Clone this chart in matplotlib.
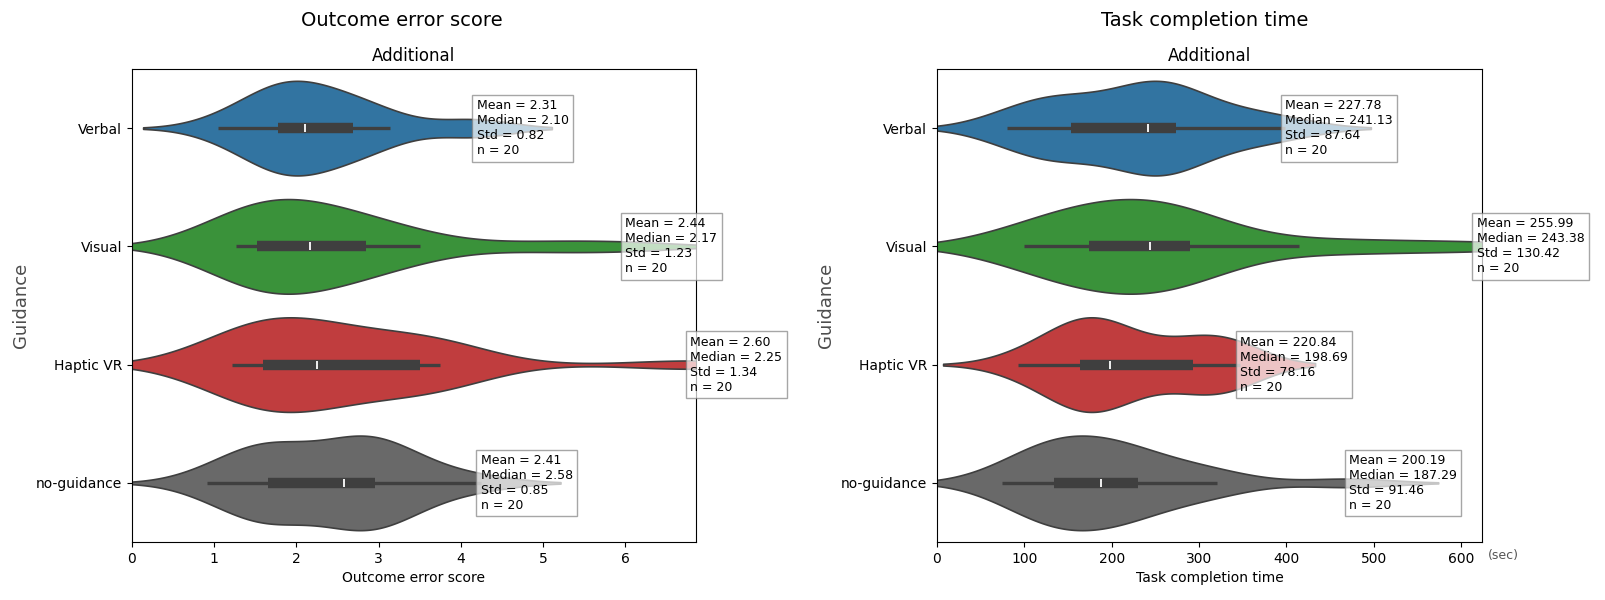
import numpy as np
import matplotlib.pyplot as plt
from matplotlib import mlab, cbook

groups = ['Verbal', 'Visual', 'Haptic VR', 'no-guidance']
colors = ['#3274a1', '#3a923a', '#c03d3e', '#696969']

# outcome error score, 20 participants per guidance type
err_verbal = [1.05, 1.35, 1.5, 1.65, 1.75, 1.78, 1.85, 1.95, 2.0, 2.08, 2.12, 2.25, 2.45, 2.55, 2.65, 2.8, 2.95, 3.14, 4.15, 4.19]
err_visual = [1.26, 1.3, 1.4, 1.45, 1.5, 1.52, 1.6, 1.78, 1.95, 2.12, 2.22, 2.3, 2.4, 2.5, 2.8, 3.0, 3.25, 3.5, 4.95, 6.0]
err_haptic = [1.21, 1.3, 1.45, 1.5, 1.58, 1.6, 1.75, 1.9, 2.0, 2.2, 2.3, 2.5, 2.7, 2.95, 3.45, 3.65, 3.7, 3.72, 3.75, 6.79]
err_none = [0.91, 1.2, 1.4, 1.55, 1.65, 1.66, 1.8, 1.95, 2.2, 2.5, 2.66, 2.72, 2.78, 2.85, 2.92, 3.08, 3.2, 3.4, 3.6, 4.24]

# task completion time (sec)
time_verbal = [80, 100, 114, 135, 150, 155, 160, 215, 232, 238, 244.26, 250, 255, 262, 270, 284, 300, 340, 370, 399]
time_visual = [100, 110, 128, 145, 168, 176, 188, 200, 215, 236, 250.76, 256, 260, 268, 287, 299, 300, 414.7, 500, 618]
time_haptic = [93, 120, 140, 155, 160, 165, 175, 180, 185, 192, 205.38, 210, 236, 270, 290, 305, 318, 330, 340, 347]
time_none = [75, 100, 115, 125, 130, 135, 145, 155, 165, 180, 194.58, 200, 210, 221, 225, 245, 280, 310, 321, 471.8]

# summary values as printed in the boxes: mean, median, std
err_summary = [(2.31, 2.10, 0.82), (2.44, 2.17, 1.23), (2.60, 2.25, 1.34), (2.41, 2.58, 0.85)]
time_summary = [(227.78, 241.13, 87.64), (255.99, 243.38, 130.42), (220.84, 198.69, 78.16), (200.19, 187.29, 91.46)]
n_obs = 20

LINE = '#3f3f3f'


def kde_stats(vals, cut=2, gridsize=200):
    vals = np.asarray(vals, float)
    kde = mlab.GaussianKDE(vals, 'scott')
    bw = kde.factor * vals.std(ddof=1)
    grid = np.linspace(vals.min() - cut * bw, vals.max() + cut * bw, gridsize)
    return dict(coords=grid, vals=kde.evaluate(grid), mean=vals.mean(),
                median=np.median(vals), min=vals.min(), max=vals.max())


def draw_panel(ax, data, summary, xlabel):
    stats = [kde_stats(d) for d in data]
    parts = ax.violin(stats, positions=range(len(data)), orientation='horizontal',
                      widths=0.8, showmeans=False, showextrema=False, showmedians=False)
    for body, c in zip(parts['bodies'], colors):
        body.set_facecolor(c)
        body.set_edgecolor(LINE)
        body.set_alpha(1)
        body.set_linewidth(1.2)

    for i, d in enumerate(data):
        bs = cbook.boxplot_stats(d)[0]
        ax.plot([bs['whislo'], bs['whishi']], [i, i], color=LINE, lw=2.4, solid_capstyle='butt')
        ax.plot([bs['q1'], bs['q3']], [i, i], color=LINE, lw=7.5, solid_capstyle='butt')
        ax.plot(bs['med'], i, marker='|', color='white', ms=6, mew=1.3)

        mean, med, sd = summary[i]
        txt = f'Mean = {mean:.2f}\nMedian = {med:.2f}\nStd = {sd:.2f}\nn = {n_obs}'
        ax.text(max(d), i, txt, fontsize=9, ha='left', va='center', zorder=5,
                bbox=dict(boxstyle='square,pad=0.35', facecolor='white', edgecolor='gray', alpha=0.7))

    top = max(max(d) for d in data)
    ax.set_xlim(0, top * 1.01)
    ax.set_ylim(len(data) - 0.5, -0.5)
    ax.set_yticks(range(len(data)))
    ax.set_yticklabels(groups, fontsize=10)
    ax.tick_params(axis='x', labelsize=10)
    ax.set_xlabel(xlabel, fontsize=10)
    ax.set_ylabel('Guidance', fontsize=13, color='#4d4d4d')
    ax.set_title('Additional', fontsize=12)


fig = plt.figure(figsize=(16.06, 6), dpi=100)
W, H = 1606, 600
ax1 = fig.add_axes([132 / W, 1 - 542 / H, (696 - 132) / W, (542 - 69) / H])
ax2 = fig.add_axes([937 / W, 1 - 542 / H, (1482 - 937) / W, (542 - 69) / H])

draw_panel(ax1, [err_verbal, err_visual, err_haptic, err_none], err_summary, 'Outcome error score')
draw_panel(ax2, [time_verbal, time_visual, time_haptic, time_none], time_summary, 'Task completion time')

fig.text(0.25, 1 - 20 / H, 'Outcome error score', ha='center', va='center', fontsize=14)
fig.text(0.75, 1 - 20 / H, 'Task completion time', ha='center', va='center', fontsize=14)

ax2.annotate('(sec)', xy=(1, 0), xycoords='axes fraction', xytext=(6, -14),
             textcoords='offset pixels', ha='left', va='center', fontsize=9, color='#555555')

fig.savefig('out.png', dpi=100)
